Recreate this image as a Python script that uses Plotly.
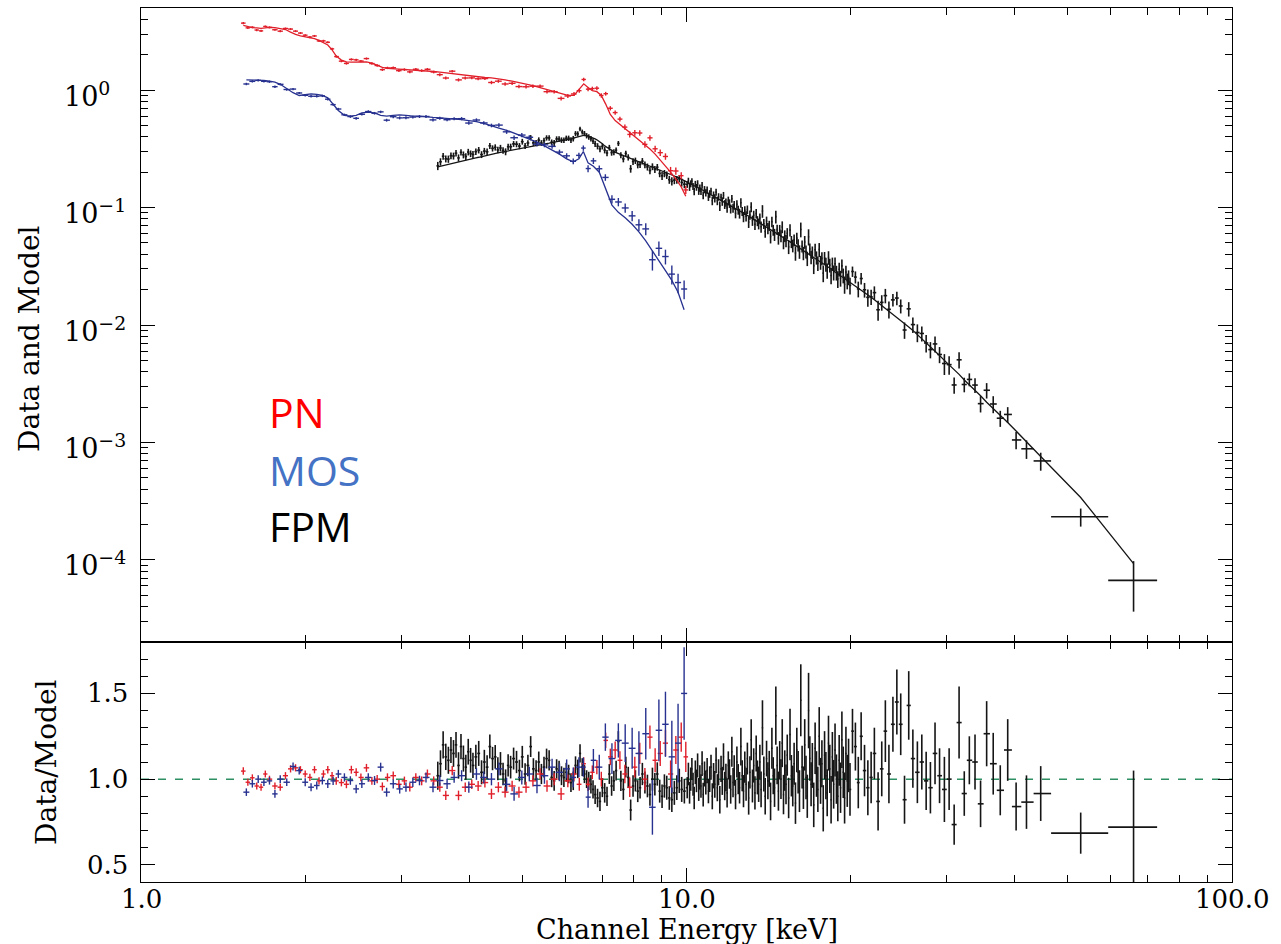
import numpy as np
import plotly.graph_objects as go

# ---------------- PN (red) ----------------
PN_E = [1.54, 1.57, 1.60, 1.63, 1.66, 1.69, 1.72, 1.76, 1.80, 1.84,
        1.88, 1.92, 1.96, 2.00, 2.04, 2.08, 2.12, 2.16, 2.20, 2.24,
        2.28, 2.33, 2.38, 2.43, 2.48, 2.53, 2.59, 2.65, 2.71, 2.77,
        2.83, 2.90, 2.97, 3.04, 3.11, 3.19, 3.27, 3.35, 3.44, 3.53,
        3.62, 3.72, 3.82, 3.93, 4.04, 4.15, 4.27, 4.39, 4.52, 4.65,
        4.79, 4.93, 5.08, 5.23, 5.39, 5.55, 5.72, 5.89, 6.06, 6.22,
        6.36, 6.48, 6.60, 6.72, 6.85, 6.98, 7.11, 7.25, 7.40, 7.55,
        7.71, 7.87, 8.04, 8.21, 8.39, 8.57, 8.76, 8.95, 9.15, 9.35,
        9.56, 9.78, 9.97]
PN_MODEL = [3.55, 3.45, 3.40, 3.38, 3.35, 3.38, 3.42, 3.40, 3.33, 3.28,
            3.12, 2.98, 2.90, 2.85, 2.80, 2.74, 2.65, 2.55, 2.42, 2.20,
            1.95, 1.80, 1.74, 1.73, 1.74, 1.75, 1.74, 1.70, 1.62, 1.56,
            1.53, 1.52, 1.51, 1.51, 1.50, 1.49, 1.48, 1.46, 1.44, 1.42,
            1.40, 1.38, 1.35, 1.33, 1.31, 1.30, 1.28, 1.27, 1.25, 1.22,
            1.19, 1.16, 1.12, 1.09, 1.05, 1.01, 0.97, 0.93, 0.90, 0.90,
            1.02, 1.13, 1.05, 0.99, 0.97, 0.90, 0.76, 0.62, 0.55, 0.51,
            0.47, 0.44, 0.405, 0.375, 0.345, 0.315, 0.285, 0.255, 0.225, 0.20,
            0.175, 0.15, 0.125]
PN_RATIO = [1.047, 0.982, 1.008, 0.96, 0.953, 1.03, 1.0, 0.96, 0.953, 1.02,
            1.06, 1.066, 1.055, 1.03, 1.01, 1.055, 0.99, 1.03, 1.055, 1.02,
            0.99, 0.98, 0.97, 1.055, 1.04, 1.01, 1.066, 0.99, 1.0, 0.957,
            1.01, 1.02, 0.97, 0.99, 0.953, 1.01, 0.99, 1.03, 0.99, 0.953,
            0.905, 1.05, 0.905, 0.953, 0.97, 0.96, 0.98, 0.914, 0.953, 0.924,
            0.96, 0.924, 0.953, 0.99, 1.03, 0.96, 1.0, 0.914, 0.99, 1.03,
            0.97, 1.09, 0.97, 1.04, 1.07, 1.0, 1.226, 1.13, 1.17, 1.11,
            1.03, 0.953, 1.07, 1.15, 1.0, 1.245, 1.11, 1.15, 1.21, 1.03,
            1.17, 1.245, 1.13]
PN_ERR = [0.022, 0.020, 0.020, 0.020, 0.020, 0.020, 0.020, 0.020, 0.021, 0.021,
          0.021, 0.021, 0.021, 0.021, 0.021, 0.021, 0.021, 0.022, 0.022, 0.022,
          0.022, 0.022, 0.023, 0.023, 0.023, 0.023, 0.023, 0.023, 0.024, 0.024,
          0.024, 0.024, 0.025, 0.025, 0.025, 0.025, 0.026, 0.026, 0.026, 0.027,
          0.027, 0.027, 0.028, 0.028, 0.028, 0.029, 0.029, 0.030, 0.030, 0.031,
          0.031, 0.032, 0.032, 0.033, 0.034, 0.034, 0.035, 0.036, 0.037, 0.038,
          0.038, 0.037, 0.039, 0.040, 0.041, 0.043, 0.045, 0.048, 0.050, 0.052,
          0.054, 0.057, 0.060, 0.062, 0.065, 0.068, 0.070, 0.073, 0.076, 0.079,
          0.082, 0.085, 0.088]

# ---------------- MOS (blue) ----------------
MOS_E = [1.56, 1.60, 1.64, 1.68, 1.72, 1.76, 1.80, 1.85, 1.90, 1.95,
         2.00, 2.05, 2.10, 2.15, 2.20, 2.25, 2.30, 2.36, 2.42, 2.48,
         2.54, 2.61, 2.68, 2.75, 2.82, 2.90, 2.98, 3.06, 3.15, 3.24,
         3.33, 3.43, 3.53, 3.64, 3.75, 3.87, 3.99, 4.12, 4.25, 4.39,
         4.53, 4.68, 4.83, 4.99, 5.15, 5.32, 5.49, 5.67, 5.85, 6.03,
         6.20, 6.35, 6.47, 6.60, 6.75, 6.92, 7.10, 7.30, 7.50, 7.72,
         7.95, 8.18, 8.42, 8.66, 8.90, 9.15, 9.40, 9.65, 9.90]
MOS_MODEL = [1.22, 1.22, 1.21, 1.21, 1.19, 1.17, 1.12, 1.03, 0.95, 0.90,
             0.92, 0.93, 0.92, 0.90, 0.86, 0.76, 0.67, 0.61, 0.60, 0.61,
             0.64, 0.65, 0.64, 0.61, 0.60, 0.61, 0.615, 0.61, 0.60, 0.60,
             0.59, 0.585, 0.58, 0.575, 0.565, 0.56, 0.55, 0.54, 0.52, 0.50,
             0.475, 0.455, 0.43, 0.41, 0.385, 0.36, 0.335, 0.31, 0.285, 0.26,
             0.245, 0.26, 0.30, 0.24, 0.225, 0.20, 0.145, 0.105, 0.091, 0.082,
             0.072, 0.062, 0.052, 0.043, 0.035, 0.029, 0.024, 0.019, 0.0135]
MOS_RATIO = [0.924, 0.973, 1.0, 0.982, 0.99, 0.914, 1.0, 0.982, 1.074, 1.05,
             0.982, 0.953, 0.963, 0.992, 0.973, 0.99, 1.03, 1.01, 0.992, 0.943,
             0.973, 1.01, 0.992, 1.07, 0.924, 0.973, 0.943, 0.953, 0.982, 0.992,
             1.01, 0.953, 0.992, 0.973, 1.01, 1.02, 0.953, 1.03, 1.01, 1.0,
             1.06, 0.97, 0.914, 1.01, 1.03, 0.963, 1.02, 1.07, 1.04, 1.06,
             1.01, 1.07, 1.07, 0.895, 1.11, 1.07, 1.245, 1.12, 1.226, 1.21,
             1.18, 1.15, 1.265, 0.836, 1.285, 1.32, 1.13, 1.21, 1.50]
MOS_ERR = [0.022, 0.022, 0.022, 0.022, 0.022, 0.022, 0.022, 0.022, 0.023, 0.023,
           0.023, 0.023, 0.023, 0.023, 0.024, 0.024, 0.024, 0.024, 0.025, 0.025,
           0.025, 0.025, 0.026, 0.026, 0.026, 0.027, 0.027, 0.027, 0.028, 0.028,
           0.029, 0.029, 0.030, 0.030, 0.031, 0.032, 0.033, 0.034, 0.035, 0.036,
           0.037, 0.038, 0.040, 0.041, 0.043, 0.045, 0.047, 0.049, 0.052, 0.055,
           0.058, 0.058, 0.056, 0.062, 0.066, 0.072, 0.080, 0.090, 0.10, 0.11,
           0.12, 0.13, 0.15, 0.16, 0.18, 0.19, 0.21, 0.23, 0.27]

# ---------------- FPM (black) ----------------
FPM_E = [3.50, 3.54, 3.58, 3.62, 3.66, 3.70, 3.74, 3.78, 3.82, 3.86,
         3.90, 3.94, 3.98, 4.02, 4.06, 4.11, 4.16, 4.21, 4.26, 4.31,
         4.36, 4.41, 4.46, 4.51, 4.56, 4.61, 4.66, 4.71, 4.76, 4.82,
         4.88, 4.94, 5.00, 5.06, 5.12, 5.18, 5.24, 5.30, 5.36, 5.42,
         5.48, 5.54, 5.60, 5.66, 5.72, 5.78, 5.84, 5.90, 5.96, 6.02,
         6.08, 6.14, 6.20, 6.26, 6.32, 6.38, 6.44, 6.50, 6.56, 6.62,
         6.68, 6.74, 6.80, 6.87, 6.94, 7.01, 7.08, 7.15, 7.22, 7.29,
         7.36, 7.43, 7.50, 7.58, 7.66, 7.74, 7.82, 7.90, 7.98, 8.06,
         8.14, 8.22, 8.30, 8.39, 8.48, 8.57, 8.66, 8.75, 8.84, 8.93,
         9.02, 9.11, 9.20, 9.30, 9.40, 9.50, 9.60, 9.70, 9.80, 9.91,
         10.03, 10.08, 10.13, 10.18, 10.23, 10.28, 10.33, 10.38, 10.43, 10.48,
         10.53, 10.58, 10.63, 10.68, 10.73, 10.79, 10.85, 10.91, 10.97, 11.03,
         11.09, 11.15, 11.21, 11.27, 11.33, 11.39, 11.45, 11.51, 11.57, 11.63,
         11.69, 11.75, 11.81, 11.87, 11.93, 11.99, 12.05, 12.11, 12.17, 12.23,
         12.30, 12.37, 12.44, 12.51, 12.58, 12.65, 12.72, 12.79, 12.86, 12.93,
         13.00, 13.07, 13.14, 13.21, 13.28, 13.35, 13.42, 13.49, 13.56, 13.63,
         13.70, 13.78, 13.86, 13.94, 14.02, 14.10, 14.18, 14.26, 14.34, 14.42,
         14.50, 14.58, 14.66, 14.74, 14.82, 14.90, 14.98, 15.06, 15.14, 15.22,
         15.30, 15.39, 15.48, 15.57, 15.66, 15.75, 15.84, 15.93, 16.02, 16.11,
         16.20, 16.29, 16.38, 16.47, 16.56, 16.65, 16.74, 16.83, 16.92, 17.01,
         17.11, 17.21, 17.31, 17.41, 17.51, 17.61, 17.71, 17.81, 17.91, 18.01,
         18.11, 18.21, 18.31, 18.41, 18.51, 18.61, 18.72, 18.83, 18.94, 19.05,
         19.16, 19.27, 19.38, 19.49, 19.60, 19.71, 19.82, 19.94,
         20.15, 20.40, 20.65, 20.90, 21.20, 21.50, 21.80, 22.10, 22.45, 22.80,
         23.15, 23.50, 23.90, 24.30, 24.70, 25.10, 25.55, 26.00, 26.50, 27.00,
         27.50, 28.00, 28.55, 29.10, 29.70, 30.30, 30.95, 31.60, 32.30, 33.00,
         33.80, 34.60, 35.50, 36.50, 37.60, 38.80, 40.20, 42.00, 44.60,
         52.8, 66.0]
FPM_MODEL = [0.222, 0.225, 0.228, 0.230, 0.233, 0.236, 0.239, 0.242, 0.245, 0.248,
             0.251, 0.254, 0.256, 0.259, 0.262, 0.265, 0.268, 0.272, 0.275, 0.279,
             0.282, 0.285, 0.288, 0.292, 0.295, 0.298, 0.302, 0.305, 0.308, 0.311,
             0.315, 0.318, 0.322, 0.325, 0.328, 0.331, 0.335, 0.338, 0.341, 0.344,
             0.347, 0.350, 0.353, 0.356, 0.359, 0.362, 0.365, 0.368, 0.371, 0.374,
             0.378, 0.384, 0.390, 0.395, 0.400, 0.406, 0.411, 0.414, 0.409, 0.403,
             0.398, 0.391, 0.384, 0.374, 0.363, 0.349, 0.335, 0.324, 0.314, 0.306,
             0.299, 0.293, 0.288, 0.282, 0.276, 0.270, 0.265, 0.261, 0.257, 0.253,
             0.249, 0.245, 0.241, 0.236, 0.231, 0.227, 0.223, 0.218, 0.214, 0.210,
             0.207, 0.203, 0.199, 0.194, 0.190, 0.186, 0.182, 0.178, 0.174, 0.170,
             0.1657, 0.1637, 0.1617, 0.1597, 0.1578, 0.1559, 0.1540, 0.1521, 0.1503, 0.1485,
             0.1468, 0.1451, 0.1434, 0.1417, 0.1400, 0.1381, 0.1362, 0.1343, 0.1325, 0.1307,
             0.1288, 0.1270, 0.1253, 0.1236, 0.1219, 0.1202, 0.1186, 0.1170, 0.1154, 0.1139,
             0.1123, 0.1109, 0.1094, 0.1080, 0.1066, 0.1052, 0.1038, 0.1024, 0.1011, 0.0998,
             0.0982, 0.0967, 0.0953, 0.0938, 0.0924, 0.0911, 0.0897, 0.0884, 0.0871, 0.0858,
             0.0845, 0.0832, 0.0820, 0.0808, 0.0796, 0.0784, 0.0773, 0.0762, 0.0751, 0.0740,
             0.0730, 0.0718, 0.0706, 0.0695, 0.0684, 0.0673, 0.0662, 0.0651, 0.0641, 0.0631,
             0.0620, 0.0611, 0.0601, 0.0592, 0.0582, 0.0573, 0.0565, 0.0555, 0.0547, 0.0538,
             0.0530, 0.0520, 0.0511, 0.0502, 0.0494, 0.0485, 0.0477, 0.0469, 0.0461, 0.0453,
             0.0446, 0.0438, 0.0431, 0.0424, 0.0417, 0.0410, 0.0403, 0.0396, 0.0390, 0.0385,
             0.0377, 0.0370, 0.0364, 0.0357, 0.0351, 0.0345, 0.0339, 0.0333, 0.0327, 0.0322,
             0.0316, 0.0310, 0.0305, 0.0300, 0.0294, 0.0289, 0.0284, 0.0279, 0.0274, 0.0269,
             0.0264, 0.0259, 0.0254, 0.0249, 0.0245, 0.0240, 0.0236, 0.0231,
             0.0223, 0.0215, 0.0207, 0.0199, 0.0190, 0.0181, 0.0172, 0.0164, 0.0155, 0.0147,
             0.0139, 0.0132, 0.0124, 0.0117, 0.0110, 0.0103, 0.0096, 0.0090, 0.0083, 0.0077,
             0.0071, 0.0065, 0.0060, 0.0055, 0.0050, 0.0046, 0.0042, 0.0038, 0.0034, 0.0031,
             0.0028, 0.0025, 0.0022, 0.00195, 0.00172, 0.00148, 0.00125, 0.00102, 0.00076,
             0.00034, 0.000093]
FPM_RATIO = [1.02, 1.09, 1.20, 1.13, 1.11, 1.17, 1.15, 1.20, 1.08, 1.19,
             1.12, 1.07, 1.16, 1.11, 1.08, 1.13, 1.15, 1.04, 1.10, 1.07,
             1.19, 1.12, 1.13, 1.06, 1.09, 1.03, 0.99, 1.08, 1.07, 1.12,
             1.10, 1.05, 1.13, 1.03, 1.08, 1.19, 1.06, 1.05, 1.10, 1.03,
             1.07, 1.12, 1.11, 1.01, 0.99, 1.06, 1.05, 1.02, 1.01, 1.04,
             1.03, 0.98, 0.99, 1.08, 1.06, 1.15, 1.07, 1.03, 1.00, 0.99,
             0.97, 0.94, 0.91, 0.89, 0.87, 0.95, 0.92, 0.90, 1.03, 0.96,
             0.99, 1.05, 1.22, 0.99, 0.94, 1.07, 1.01, 0.82, 0.96, 0.99,
             0.93, 0.95, 1.03, 0.98, 0.96, 0.91, 1.00, 0.97, 1.03, 0.93,
             0.90, 0.96, 0.95, 0.89, 0.88, 0.92, 0.95, 0.99, 0.94, 0.93,
             0.95, 1.03, 0.92, 1.00, 1.06, 0.97, 0.89, 1.04, 0.99, 1.08,
             0.94, 1.01, 0.96, 1.09, 0.91, 1.03, 0.98, 1.05, 0.93, 1.00,
             1.07, 0.90, 1.02, 0.97, 1.11, 0.95, 1.04, 0.88, 1.06, 0.99,
             1.13, 0.96, 1.01, 0.92, 1.08, 1.03, 0.94, 1.16, 0.98, 1.05,
             0.91, 1.10, 1.00, 0.95, 1.19, 1.02, 0.93, 1.07, 0.97, 1.12,
             0.89, 1.04, 1.23, 0.96, 1.08, 0.92, 1.15, 1.01, 0.97, 1.10,
             0.94, 1.30, 1.03, 0.90, 1.12, 0.99, 1.06, 0.87, 1.18, 1.02,
             0.95, 1.37, 1.08, 0.93, 1.11, 1.00, 1.21, 0.91, 1.05, 0.97,
             1.14, 0.89, 1.26, 1.02, 0.96, 1.09, 0.86, 1.17, 1.04, 0.93,
             1.46, 1.07, 0.95, 1.20, 1.01, 0.90, 1.40, 1.12, 0.97, 1.08,
             0.85, 1.18, 1.03, 0.94, 1.25, 0.99, 1.09, 0.83, 1.14, 1.02,
             0.92, 1.21, 1.06, 0.88, 1.13, 0.97, 1.17, 1.00, 0.90, 1.11,
             0.95, 1.23, 1.04, 0.89, 1.15, 0.99, 1.08, 0.94,
             1.28, 1.19, 0.98, 1.25, 1.05, 0.95, 1.01, 1.15, 0.87, 1.06,
             1.28, 1.03, 1.32, 1.45, 1.32, 0.88, 1.43, 1.12, 1.04, 1.10,
             0.99, 0.95, 1.15, 1.02, 0.94, 1.00, 0.735, 1.33, 0.916, 1.11,
             1.10, 0.856, 1.265, 1.09, 0.935, 1.17, 0.84, 0.866, 0.916,
             0.685, 0.72]
FPM_ERR = [0.082, 0.078, 0.080, 0.077, 0.079, 0.076, 0.078, 0.075, 0.077, 0.074,
           0.076, 0.073, 0.075, 0.072, 0.074, 0.071, 0.073, 0.070, 0.071, 0.069,
           0.070, 0.068, 0.069, 0.067, 0.068, 0.066, 0.067, 0.065, 0.066, 0.064,
           0.065, 0.063, 0.064, 0.062, 0.063, 0.061, 0.062, 0.060, 0.061, 0.059,
           0.060, 0.058, 0.059, 0.057, 0.058, 0.056, 0.057, 0.055, 0.056, 0.055,
           0.054, 0.055, 0.054, 0.053, 0.054, 0.053, 0.052, 0.053, 0.052, 0.053,
           0.054, 0.053, 0.055, 0.054, 0.056, 0.055, 0.057, 0.056, 0.058, 0.057,
           0.059, 0.058, 0.060, 0.059, 0.061, 0.060, 0.062, 0.061, 0.063, 0.062,
           0.064, 0.063, 0.065, 0.064, 0.066, 0.065, 0.067, 0.066, 0.068, 0.067,
           0.069, 0.068, 0.070, 0.069, 0.071, 0.070, 0.072, 0.071, 0.073, 0.072,
           0.062, 0.066, 0.063, 0.068, 0.064, 0.067, 0.065, 0.069, 0.066, 0.070,
           0.067, 0.071, 0.068, 0.072, 0.069, 0.073, 0.070, 0.074, 0.071, 0.075,
           0.073, 0.076, 0.074, 0.078, 0.075, 0.079, 0.076, 0.080, 0.077, 0.082,
           0.079, 0.083, 0.080, 0.085, 0.082, 0.086, 0.083, 0.088, 0.085, 0.089,
           0.086, 0.091, 0.088, 0.092, 0.110, 0.090, 0.094, 0.091, 0.096, 0.093,
           0.097, 0.094, 0.120, 0.096, 0.100, 0.097, 0.105, 0.099, 0.103, 0.100,
           0.104, 0.160, 0.102, 0.106, 0.104, 0.108, 0.105, 0.110, 0.120, 0.108,
           0.112, 0.170, 0.110, 0.114, 0.112, 0.116, 0.140, 0.115, 0.118, 0.116,
           0.120, 0.118, 0.150, 0.121, 0.119, 0.123, 0.121, 0.130, 0.124, 0.122,
           0.210, 0.125, 0.124, 0.150, 0.127, 0.126, 0.220, 0.130, 0.128, 0.131,
           0.130, 0.150, 0.133, 0.132, 0.170, 0.134, 0.137, 0.135, 0.140, 0.138,
           0.137, 0.160, 0.141, 0.139, 0.145, 0.142, 0.155, 0.144, 0.146, 0.148,
           0.147, 0.165, 0.150, 0.149, 0.155, 0.152, 0.156, 0.154,
           0.13, 0.14, 0.15, 0.14, 0.15, 0.16, 0.15, 0.15, 0.17, 0.16,
           0.18, 0.17, 0.16, 0.19, 0.18, 0.14, 0.20, 0.17, 0.18, 0.16,
           0.17, 0.15, 0.18, 0.16, 0.19, 0.18, 0.117, 0.21, 0.13, 0.14,
           0.16, 0.136, 0.19, 0.18, 0.146, 0.18, 0.14, 0.156, 0.16,
           0.12, 0.33]
# the two widest high-energy FPM bins (keV)
FPM_WIDE_LO = [46.6, 59.3]
FPM_WIDE_HI = [59.3, 72.9]

# ---------------- labels ----------------
X_TICKS = [1, 10, 100]
X_TICK_TEXT = ["1.0", "10.0", "100.0"]
X_MINOR = [2, 3, 4, 5, 6, 7, 8, 9, 20, 30, 40, 50, 60, 70, 80, 90]
Y_TICKS = [1e-4, 1e-3, 1e-2, 1e-1, 1]
Y_EXP = [-4, -3, -2, -1, 0]
Y_MINOR = [3e-5, 4e-5, 5e-5, 6e-5, 7e-5, 8e-5, 9e-5,
           2e-4, 3e-4, 4e-4, 5e-4, 6e-4, 7e-4, 8e-4, 9e-4,
           2e-3, 3e-3, 4e-3, 5e-3, 6e-3, 7e-3, 8e-3, 9e-3,
           2e-2, 3e-2, 4e-2, 5e-2, 6e-2, 7e-2, 8e-2, 9e-2,
           0.2, 0.3, 0.4, 0.5, 0.6, 0.7, 0.8, 0.9, 2, 3, 4]
R_TICKS = [0.5, 1.0, 1.5]
R_TICK_TEXT = ["0.5", "1.0", "1.5"]
R_MINOR = [0.6, 0.7, 0.8, 0.9, 1.1, 1.2, 1.3, 1.4, 1.6, 1.7]

PN_COLOR = "#e01f2a"
MOS_COLOR = "#27318f"
FPM_COLOR = "#151515"


def bin_edges(E):
    E = np.asarray(E, float)
    mid = np.sqrt(E[:-1] * E[1:])
    lo = np.concatenate([[E[0] ** 2 / mid[0]], mid])
    hi = np.concatenate([mid, [E[-1] ** 2 / mid[-1]]])
    return lo, hi


SERIES = []
for name, E, M, R, S, col, ew in [
    ("FPM", FPM_E, FPM_MODEL, FPM_RATIO, FPM_ERR, FPM_COLOR, 1.6),
    ("PN", PN_E, PN_MODEL, PN_RATIO, PN_ERR, PN_COLOR, 1.4),
    ("MOS", MOS_E, MOS_MODEL, MOS_RATIO, MOS_ERR, MOS_COLOR, 1.4),
]:
    E = np.asarray(E, float)
    M = np.asarray(M, float)
    R = np.asarray(R, float)
    S = np.asarray(S, float)
    lo, hi = bin_edges(E)
    if name == "FPM":
        n = len(FPM_WIDE_LO)
        lo[-n:] = FPM_WIDE_LO
        hi[-n:] = FPM_WIDE_HI
        hi[-n - 1] = FPM_WIDE_LO[0]
    SERIES.append((name, E, M, R, S, lo, hi, col, ew))

fig = go.Figure()
HIDDEN = dict(size=1, color="rgba(0,0,0,0)")
for name, E, M, R, S, lo, hi, col, ew in SERIES:
    ex = dict(type="data", symmetric=False, array=hi - E, arrayminus=E - lo,
              color=col, thickness=ew, width=0)
    # upper panel: data
    fig.add_trace(go.Scatter(
        x=E, y=M * R, mode="markers", marker=HIDDEN,
        error_y=dict(type="data", array=M * S, color=col, thickness=ew, width=0),
        error_x=ex, xaxis="x", yaxis="y", showlegend=False, name=name))
    # upper panel: model
    fig.add_trace(go.Scatter(
        x=E, y=M, mode="lines", line=dict(color=col, width=1.3),
        xaxis="x", yaxis="y", showlegend=False, name=name + " model"))
    # lower panel: ratio
    fig.add_trace(go.Scatter(
        x=E, y=R, mode="markers", marker=HIDDEN,
        error_y=dict(type="data", array=S, color=col, thickness=ew, width=0),
        error_x=ex, xaxis="x2", yaxis="y2", showlegend=False, name=name + " ratio"))

SPLIT = (882 - 642) / 874.0

axis_common = dict(showline=True, linecolor="black", linewidth=1.4, mirror="ticks",
                   ticks="inside", ticklen=14, tickwidth=1.4, tickcolor="black",
                   showgrid=False, zeroline=False, showticklabels=False)
minor_x = dict(ticks="inside", ticklen=7, tickwidth=1.3, tickcolor="black",
               tickvals=X_MINOR, showgrid=False)

fig.update_layout(
    width=1281, height=944, autosize=False,
    margin=dict(l=141, r=49, t=8, b=62),
    paper_bgcolor="white", plot_bgcolor="white",
    xaxis=dict(domain=[0, 1], anchor="y", type="log", range=[0, 2],
               tickvals=X_TICKS, minor=minor_x, **axis_common),
    xaxis2=dict(domain=[0, 1], anchor="y2", type="log", range=[0, 2], matches="x",
                tickvals=X_TICKS, minor=minor_x, **axis_common),
    yaxis=dict(domain=[SPLIT, 1], anchor="x", type="log",
               range=[np.log10(2e-5), np.log10(5)], tickvals=Y_TICKS,
               minor=dict(ticks="inside", ticklen=7, tickwidth=1.3, tickcolor="black",
                          tickvals=Y_MINOR, showgrid=False),
               **axis_common),
    yaxis2=dict(domain=[0, SPLIT], anchor="x2", range=[0.4, 1.8], tickvals=R_TICKS,
                minor=dict(ticks="inside", ticklen=7, tickwidth=1.3, tickcolor="black",
                           tickvals=R_MINOR, showgrid=False),
                **axis_common),
    shapes=[dict(type="line", xref="x2 domain", yref="y2", x0=0, x1=1, y0=1.0, y1=1.0,
                 line=dict(color="#2e8f62", width=1.5, dash="8px,9px"), layer="below")],
)

TICKFONT = dict(family="DejaVu Serif", size=26, color="black")
TITLEFONT = dict(family="DejaVu Serif", size=28, color="black")
ann = []
for v, t in zip(X_TICKS, X_TICK_TEXT):
    ann.append(dict(x=np.log10(v), xref="x2", y=-0.0195, yref="paper", text=t,
                    showarrow=False, font=TICKFONT, xanchor="center", yanchor="middle"))
for v, k in zip(Y_TICKS, Y_EXP):
    txt = "10<sup>%s</sup>" % ("0" if k == 0 else "\u2212%d" % (-k))
    ann.append(dict(x=-0.0724, xref="paper", y=np.log10(v), yref="y", text=txt,
                    showarrow=False, font=dict(family="DejaVu Serif", size=27, color="black"),
                    xanchor="left", yanchor="middle", yshift=-4))
for v, t in zip(R_TICKS, R_TICK_TEXT):
    ann.append(dict(x=-0.0101, xref="paper", y=v, yref="y2", text=t, showarrow=False,
                    font=TICKFONT, xanchor="right", yanchor="middle"))
ann.append(dict(x=0.5005, xref="paper", y=-0.0745, yref="paper", text="Channel Energy [keV]",
                showarrow=False, font=dict(family="DejaVu Serif", size=27, color="black"),
                xanchor="center", yanchor="bottom"))
ann.append(dict(x=-0.1027, xref="paper", y=0.6224, yref="paper", text="Data and Model",
                showarrow=False, font=TITLEFONT, textangle=-90, xanchor="center", yanchor="middle"))
ann.append(dict(x=-0.0862, xref="paper", y=0.1373, yref="paper", text="Data/Model",
                showarrow=False, font=TITLEFONT, textangle=-90, xanchor="center", yanchor="middle"))
for txt, col, yp in [("PN", "#ff0000", 0.5378), ("MOS", "#4472c4", 0.4714), ("FPM", "#000000", 0.4073)]:
    ann.append(dict(x=0.1155, xref="paper", y=yp, yref="paper", text=txt, showarrow=False,
                    font=dict(family="Open Sans", size=41, color=col),
                    xanchor="left", yanchor="middle"))
fig.update_layout(annotations=ann)

fig.write_html("out.html")
